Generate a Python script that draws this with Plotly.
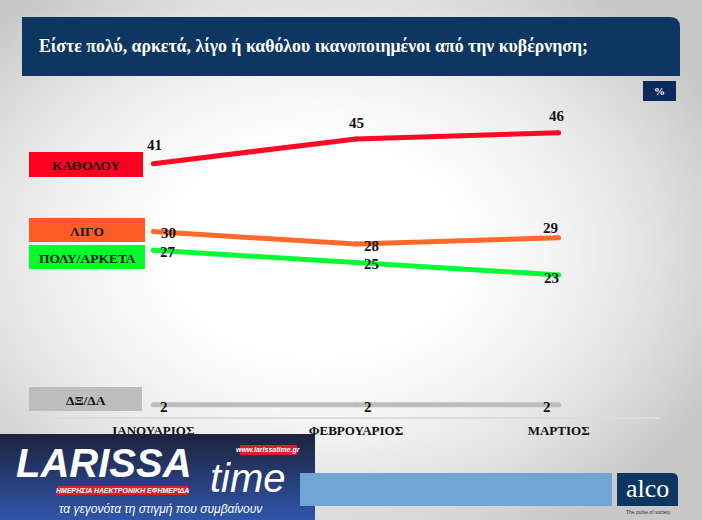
import base64, struct, zlib
import plotly.graph_objects as go

# ---------------- data ----------------
months = ["ΙΑΝΟΥΑΡΙΟΣ", "ΦΕΒΡΟΥΑΡΙΟΣ", "ΜΑΡΤΙΟΣ"]
series_names = ["ΚΑΘΟΛΟΥ", "ΛΙΓΟ", "ΠΟΛΥ/ΑΡΚΕΤΑ", "ΔΞ/ΔΑ"]
katholou = [41, 45, 46]
ligo = [30, 28, 29]
poly_arketa = [27, 25, 23]
dx_da = [2, 2, 2]
title_text = "Είστε πολύ, αρκετά, λίγο ή καθόλου ικανοποιημένοι από την κυβέρνηση;"

W, H = 702, 520
SERIF = "Liberation Serif, Times New Roman, serif"
SANS = "Liberation Sans, Arial, sans-serif"


def px(x):
    return x / W


def py(y):
    return 1 - y / H


# ---------------- background vignette as png ----------------
def make_png(w, h, fn):
    raw = b""
    for j in range(h):
        row = b"\x00"
        for i in range(w):
            row += bytes(fn(i / (w - 1), j / (h - 1)))
        raw += row

    def chunk(tag, data):
        c = struct.pack(">I", len(data)) + tag + data
        return c + struct.pack(">I", zlib.crc32(tag + data) & 0xffffffff)

    png = b"\x89PNG\r\n\x1a\n"
    png += chunk(b"IHDR", struct.pack(">IIBBBBB", w, h, 8, 2, 0, 0, 0))
    png += chunk(b"IDAT", zlib.compress(raw, 9))
    png += chunk(b"IEND", b"")
    return "data:image/png;base64," + base64.b64encode(png).decode()


def vignette(u, v):
    dx = (u - 0.45) / 0.62
    dy = (v - 0.48) / 0.62
    d2 = dx * dx + dy * dy
    g = 255 - 52 * max(0.0, d2 - 0.12) / 0.88
    g = int(max(200, min(255, g)))
    return (g, g, g)


def logo_grad(u, v):
    r = int(30 + (48 - 30) * v)
    g = int(36 + (86 - 36) * v)
    b = int(62 + (170 - 62) * v)
    return (r, g, b)


bg_src = make_png(88, 66, vignette)
logo_src = make_png(4, 40, logo_grad)

fig = go.Figure()

colors = ["#ff0a24", "#ff6a2a", "#00ff33", "#bdbdbd"]
box_colors = ["#ff0022", "#ff5c24", "#00ff2a", "#bdbdbd"]
all_vals = [katholou, ligo, poly_arketa, dx_da]

for name, vals, col in zip(series_names, all_vals, colors):
    fig.add_trace(go.Scatter(
        x=months, y=vals, mode="lines+markers", name=name,
        line=dict(color=col, width=5),
        marker=dict(color=col, size=5),
        hoverinfo="skip", showlegend=False,
    ))

# data label offsets (label centre relative to point, px; +y = down)
offsets = [
    [(1, -19), (0, -16), (-2, -17)],
    [(15, 1), (15, 2), (-8, -10)],
    [(15, 2), (15, 1), (-7, 3)],
    [(11, 2), (12, 2), (-12, 2)],
]

annotations = []
for vals, offs in zip(all_vals, offsets):
    for m, v, (ox, oy) in zip(months, vals, offs):
        annotations.append(dict(
            x=m, y=v, xref="x", yref="y", text=str(v), showarrow=False,
            xanchor="center", yanchor="middle",
            xshift=ox, yshift=-oy,
            font=dict(family=SERIF, size=15, color="#111111", weight="bold"),
        ))


def paper_text(x, y, text, font, xanchor="center"):
    return dict(x=px(x), y=py(y), xref="paper", yref="paper", text=text,
                showarrow=False, xanchor=xanchor, yanchor="middle", font=font)


shapes = []

# legend label boxes
boxes = [(29, 143, 152, 177), (29, 145, 218, 242), (29, 145, 245, 269), (29, 142, 387, 411)]
for name, col, (x0, x1, y0, y1) in zip(series_names, box_colors, boxes):
    shapes.append(dict(type="rect", xref="paper", yref="paper",
                       x0=px(x0), x1=px(x1), y0=py(y1), y1=py(y0),
                       fillcolor=col, line=dict(width=0), layer="below"))
    annotations.append(paper_text((x0 + x1) / 2, (y0 + y1) / 2 + 1, name,
                                  dict(family=SERIF, size=13.5, color="#111111", weight="bold")))

# title box with rounded top-right corner
x0, x1, y0, y1, r = 22, 680, 17, 76, 10
path = (f"M {px(x0)},{py(y0)} L {px(x1 - r)},{py(y0)} "
        f"Q {px(x1)},{py(y0)} {px(x1)},{py(y0 + r)} "
        f"L {px(x1)},{py(y1)} L {px(x0)},{py(y1)} Z")
shapes.append(dict(type="path", xref="paper", yref="paper", path=path,
                   fillcolor="#0d3660", line=dict(width=0)))
annotations.append(paper_text(37, 46, title_text,
                              dict(family=SERIF, size=17.8, color="white", weight="bold"),
                              xanchor="left"))

# percent box
shapes.append(dict(type="rect", xref="paper", yref="paper",
                   x0=px(643), x1=px(676), y0=py(101), y1=py(81),
                   fillcolor="#0d2a5c", line=dict(width=0)))
annotations.append(paper_text(659.5, 91, "%",
                              dict(family=SERIF, size=11, color="white", weight="bold")))

# bottom light-blue bar
shapes.append(dict(type="rect", xref="paper", yref="paper",
                   x0=px(300), x1=px(612), y0=py(506), y1=py(473),
                   fillcolor="#6fa6d3", line=dict(width=0)))
# alco box
ax0, ax1, ay0, ay1, ar = 617, 678, 473, 506, 6
apath = (f"M {px(ax0)},{py(ay0)} L {px(ax1 - ar)},{py(ay0)} "
         f"Q {px(ax1)},{py(ay0)} {px(ax1)},{py(ay0 + ar)} "
         f"L {px(ax1)},{py(ay1)} L {px(ax0)},{py(ay1)} Z")
shapes.append(dict(type="path", xref="paper", yref="paper", path=apath,
                   fillcolor="#0d3660", line=dict(width=0)))
annotations.append(paper_text(647.5, 488, "alco", dict(family=SERIF, size=26, color="white")))
annotations.append(paper_text(648, 512, "The pulse of society",
                              dict(family=SANS, size=5, color="#333333")))

# logo: red badges drawn above logo image
shapes += [
    dict(type="rect", xref="paper", yref="paper",
         x0=px(240), x1=px(297), y0=py(455), y1=py(445),
         fillcolor="#d8202a", line=dict(width=0), layer="above"),
    dict(type="rect", xref="paper", yref="paper",
         x0=px(57), x1=px(188), y0=py(495), y1=py(486),
         fillcolor="#d8202a", line=dict(width=0), layer="above"),
]
annotations += [
    paper_text(268.5, 450, "<i>www.larissatime.gr</i>",
               dict(family=SANS, size=7, color="white", weight="bold")),
    paper_text(122.5, 490.5, "<i>ΗΜΕΡΗΣΙΑ ΗΛΕΚΤΡΟΝΙΚΗ ΕΦΗΜΕΡΙΔΑ</i>",
               dict(family=SANS, size=7, color="white", weight="bold")),
    paper_text(14, 463, "<i>LARISSA</i>",
               dict(family=SANS, size=40, color="white", weight="bold"), xanchor="left"),
    paper_text(208, 478, "<i>time</i>",
               dict(family=SANS, size=40, color="white"), xanchor="left"),
    paper_text(160, 509, "<i>τα γεγονότα τη στιγμή που συμβαίνουν</i>",
               dict(family=SANS, size=12, color="white")),
]

images = [
    dict(source=bg_src, xref="paper", yref="paper", x=0, y=1, sizex=1, sizey=1,
         xanchor="left", yanchor="top", sizing="stretch", layer="below"),
    dict(source=logo_src, xref="paper", yref="paper", x=0, y=py(434),
         sizex=px(315), sizey=86 / H, xanchor="left", yanchor="top",
         sizing="stretch", layer="above"),
]

fig.update_layout(
    width=W, height=H,
    margin=dict(l=0, r=0, t=0, b=0),
    paper_bgcolor="#e6e6e6", plot_bgcolor="rgba(0,0,0,0)",
    xaxis=dict(domain=[px(52), px(660)], range=[-0.5, 2.5], type="category",
               showgrid=False, zeroline=False, showline=True,
               linecolor="#dcdcdc", linewidth=2, ticks="",
               tickfont=dict(family=SERIF, size=13, color="#111111", weight="bold"),
               automargin=False, fixedrange=True),
    yaxis=dict(domain=[py(417), py(100)], range=[0, 51.3],
               showgrid=False, zeroline=False, showline=False,
               showticklabels=False, ticks="", automargin=False, fixedrange=True),
    shapes=shapes, annotations=annotations, images=images,
    showlegend=False,
)

fig.write_html("out.html", config={"displayModeBar": False},
               post_script="document.body.style.margin='0';document.body.style.overflow='hidden';")
